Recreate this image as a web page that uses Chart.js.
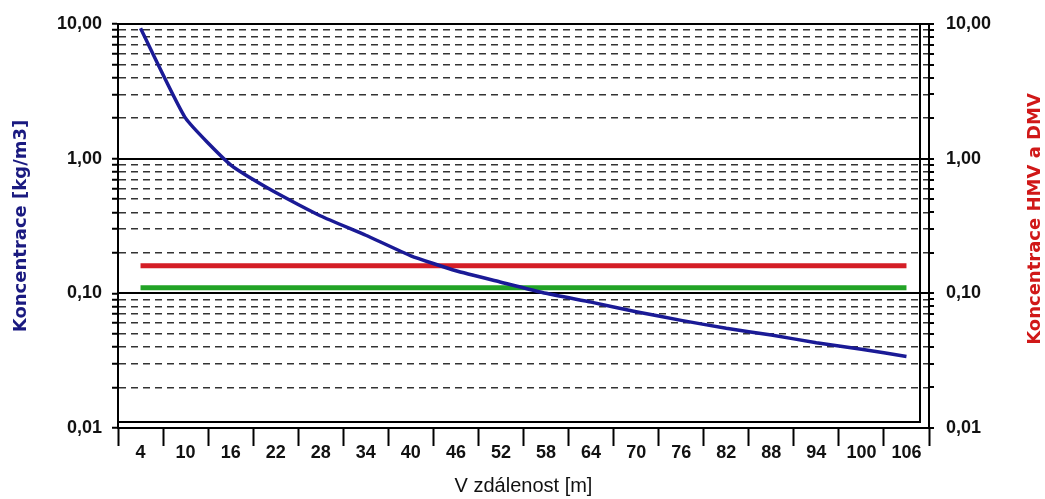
<!DOCTYPE html>
<html>
<head>
<meta charset="utf-8">
<script src="https://cdn.jsdelivr.net/npm/chart.js@4.4.1/dist/chart.umd.min.js"></script>
<style>
  html, body { margin: 0; padding: 0; background: #fff; }
  #wrap { width: 1045px; height: 499px; position: relative; }
</style>
</head>
<body>
<div id="wrap"><canvas id="koncentrace-chart"></canvas></div>
<script>
'use strict';

// vzdalenost [m]
var VZDALENOST = [4, 10, 16, 22, 28, 34, 40, 46, 52, 58, 64, 70, 76, 82, 88, 94, 100, 106];
// koncentrace [kg/m3]
var KONCENTRACE = [9.3, 2.0, 0.9, 0.56, 0.375, 0.27, 0.19, 0.147, 0.121, 0.10, 0.086, 0.073, 0.063, 0.055, 0.049, 0.043, 0.0385, 0.034];
// HMV a DMV
var HMV = [0.16, 0.16, 0.16, 0.16, 0.16, 0.16, 0.16, 0.16, 0.16, 0.16, 0.16, 0.16, 0.16, 0.16, 0.16, 0.16, 0.16, 0.16];
var DMV = [0.11, 0.11, 0.11, 0.11, 0.11, 0.11, 0.11, 0.11, 0.11, 0.11, 0.11, 0.11, 0.11, 0.11, 0.11, 0.11, 0.11, 0.11];

var Y_TICKS = [0.01, 0.02, 0.03, 0.04, 0.05, 0.06, 0.07, 0.08, 0.09,
               0.1, 0.2, 0.3, 0.4, 0.5, 0.6, 0.7, 0.8, 0.9,
               1, 2, 3, 4, 5, 6, 7, 8, 9, 10];
var Y_MAJOR = [0.01, 0.1, 1, 10];
var Y_LABELS = ['0,01', '0,10', '1,00', '10,00'];

var TICK_FONT = { family: 'Arial, "Liberation Sans", sans-serif', size: 18, weight: 'bold' };

function isMajor(v) {
	return Y_MAJOR.some(function (m) { return Math.abs(v - m) < m * 1e-6; });
}
function majorLabel(v) {
	for (var i = 0; i < Y_MAJOR.length; i++) {
		if (Math.abs(v - Y_MAJOR[i]) < Y_MAJOR[i] * 1e-6) return Y_LABELS[i];
	}
	return '';
}
function setTicks(scale) {
	scale.ticks = Y_TICKS.map(function (v) { return { value: v, major: isMajor(v) }; });
}

// inner plot box + right axis title
var extras = {
	id: 'extras',
	afterDraw: function (chart) {
		var ctx = chart.ctx, a = chart.chartArea;
		ctx.save();
		ctx.strokeStyle = '#000';
		ctx.lineWidth = 2;
		ctx.beginPath();
		ctx.moveTo(a.left, a.bottom - 6);
		ctx.lineTo(a.right - 9, a.bottom - 6);
		ctx.lineTo(a.right - 9, a.top);
		ctx.stroke();
		ctx.translate(1035, (a.top + a.bottom) / 2 - 7);
		ctx.rotate(-Math.PI / 2);
		ctx.fillStyle = '#d01818';
		ctx.font = 'bold 18px "DejaVu Sans", sans-serif';
		ctx.textAlign = 'center';
		ctx.textBaseline = 'middle';
		ctx.fillText('Koncentrace HMV a DMV', 0, 0);
		ctx.restore();
	}
};

var ctx = document.getElementById('koncentrace-chart').getContext('2d');
new Chart(ctx, {
	type: 'line',
	data: {
		labels: VZDALENOST,
		datasets: [
			{
				label: 'HMV',
				data: HMV,
				borderColor: '#d41e26',
				borderWidth: 5,
				pointRadius: 0,
				yAxisID: 'y',
				order: 3
			}, {
				label: 'DMV',
				data: DMV,
				borderColor: '#22a326',
				borderWidth: 5,
				pointRadius: 0,
				yAxisID: 'y',
				order: 2
			}, {
				label: 'Koncentrace',
				data: KONCENTRACE,
				borderColor: '#1a1a96',
				borderWidth: 3.5,
				pointRadius: 0,
				tension: 0.15,
				yAxisID: 'y',
				order: 1
			}
		]
	},
	plugins: [extras],
	options: {
		responsive: true,
		maintainAspectRatio: false,
		animation: false,
		layout: { padding: { top: 24, left: 0, right: 0, bottom: 0 } },
		plugins: {
			legend: { display: false },
			tooltip: { enabled: false }
		},
		scales: {
			x: {
				type: 'category',
				offset: true,
				afterFit: function (s) { s.height = 71; },
				grid: {
					offset: true,
					drawOnChartArea: false,
					drawTicks: true,
					tickLength: 18,
					tickColor: '#000',
					tickWidth: 2
				},
				border: { display: true, color: '#000', width: 2 },
				ticks: {
					color: '#111',
					font: TICK_FONT,
					padding: -4,
					maxRotation: 0,
					autoSkip: false
				},
				title: {
					display: true,
					text: 'V zdálenost [m]',
					color: '#111',
					font: { family: 'Arial, "Liberation Sans", sans-serif', size: 20 },
					padding: { top: 0, bottom: 1 }
				}
			},
			y: {
				type: 'logarithmic',
				position: 'left',
				min: 0.01,
				max: 10,
				afterBuildTicks: setTicks,
				afterFit: function (s) { s.width = 118; },
				grid: {
					color: function (c) { return c.tick && isMajor(c.tick.value) ? 'rgba(0,0,0,0)' : '#333'; },
					lineWidth: 1.5,
					tickColor: '#000',
					tickLength: 6,
					tickWidth: 2
				},
				border: { display: true, color: '#000', width: 2, dash: [7, 5] },
				ticks: {
					autoSkip: false,
					color: '#111',
					font: TICK_FONT,
					padding: 10,
					callback: function (v) { return majorLabel(v); }
				},
				title: {
					display: true,
					text: 'Koncentrace [kg/m3]',
					color: '#1a1a80',
					font: { family: '"DejaVu Sans", sans-serif', size: 18, weight: 'bold' },
					padding: { top: 11, bottom: 0 }
				}
			},
			y2: {
				type: 'logarithmic',
				position: 'right',
				min: 0.01,
				max: 10,
				afterBuildTicks: setTicks,
				afterFit: function (s) { s.width = 116; },
				grid: {
					color: function (c) { return c.tick && isMajor(c.tick.value) ? '#000' : 'rgba(0,0,0,0)'; },
					lineWidth: 2,
					tickColor: '#000',
					tickLength: 5,
					tickWidth: 2
				},
				border: { display: true, color: '#000', width: 2 },
				ticks: {
					autoSkip: false,
					color: '#111',
					font: TICK_FONT,
					padding: 12,
					callback: function (v) { return majorLabel(v); }
				}
			}
		}
	}
});
</script>
</body>
</html>
